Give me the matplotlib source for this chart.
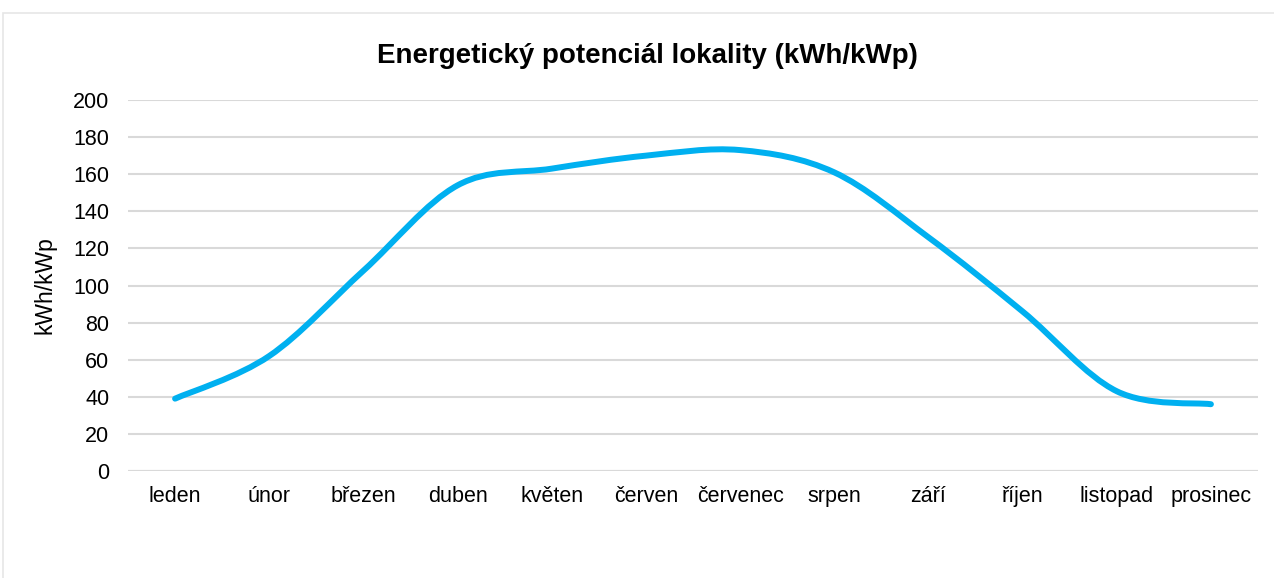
import numpy as np
import matplotlib.pyplot as plt
from matplotlib.path import Path
from matplotlib.patches import PathPatch, Rectangle

months = ['leden', 'únor', 'březen', 'duben', 'květen', 'červen',
          'červenec', 'srpen', 'září', 'říjen', 'listopad', 'prosinec']
values = [39, 62, 108, 154, 163, 170, 173, 161, 126, 86, 43, 36]
yticks = [0, 20, 40, 60, 80, 100, 120, 140, 160, 180, 200]

plt.rcParams['font.family'] = ['Liberation Sans', 'DejaVu Sans']

fig = plt.figure(figsize=(12.74, 5.78), dpi=100)
fig.patches.append(Rectangle((3 / 1274, -0.1), 1.2, 1 - 13 / 578 + 0.1,
                             transform=fig.transFigure, fill=False,
                             edgecolor='#E6E6E6', linewidth=1.2))
ax = fig.add_axes([128 / 1274, 1 - 471 / 578, 1130 / 1274, 371 / 578])

# smoothed line like Excel (Catmull-Rom as cubic bezier)
x = np.arange(len(values), dtype=float)
y = np.array(values, dtype=float)
px = np.concatenate([[x[0]], x, [x[-1]]])
py = np.concatenate([[y[0]], y, [y[-1]]])
verts = [(x[0], y[0])]
codes = [Path.MOVETO]
for i in range(1, len(px) - 2):
    c1 = (px[i] + (px[i + 1] - px[i - 1]) / 6, py[i] + (py[i + 1] - py[i - 1]) / 6)
    c2 = (px[i + 1] - (px[i + 2] - px[i]) / 6, py[i + 1] - (py[i + 2] - py[i]) / 6)
    verts += [c1, c2, (px[i + 1], py[i + 1])]
    codes += [Path.CURVE4, Path.CURVE4, Path.CURVE4]
ax.add_patch(PathPatch(Path(verts, codes), fill=False, edgecolor='#00B0F0',
                       linewidth=4.3, capstyle='round', joinstyle='round', zorder=3))

ax.set_xlim(-0.5, len(months) - 0.5)
ax.set_ylim(0, 200)
ax.set_xticks(x)
ax.set_xticklabels(months)
ax.set_yticks(yticks)
ax.tick_params(length=0, labelsize=15.5, colors='#000000')
ax.tick_params(axis='x', pad=11)
ax.tick_params(axis='y', pad=13.5)
ax.grid(axis='y', color='#D9D9D9', linewidth=1.5)
ax.set_axisbelow(True)
for s in ax.spines.values():
    s.set_visible(False)
ax.axhline(0, color='#D9D9D9', linewidth=1.5, zorder=1)

ax.set_ylabel('kWh/kWp', fontsize=16.5, labelpad=12)
fig.text(0.508, 1 - 56 / 578, 'Energetický potenciál lokality (kWh/kWp)',
         ha='center', va='center', fontsize=20, fontweight='bold')

fig.savefig('out.png', dpi=100)
